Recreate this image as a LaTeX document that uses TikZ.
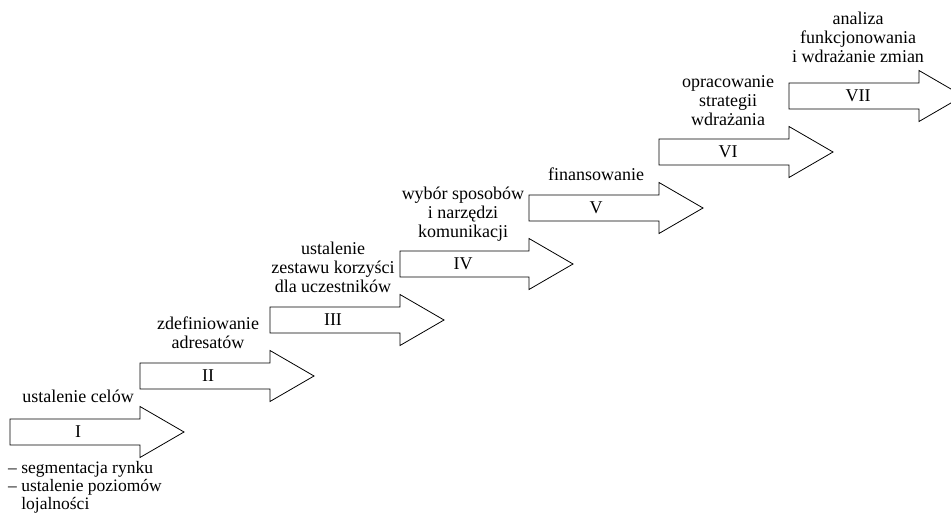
\documentclass[tikz,border=0pt]{standalone}
\usepackage{fontspec}
\setmainfont{Liberation Serif}
\usetikzlibrary{positioning}
\tikzset{
    %Define style for step arrows
    krok/.style={
           draw=black,
           line width=0.8pt,
           line join=miter},
    %Define style for labels above the arrows
    opis/.style={
           anchor=south,
           align=center,
           inner sep=0pt,
           font=\fontsize{18}{19}\selectfont},
    % Define style for the step numbers
    nr/.style={
           inner sep=0pt,
           font=\fontsize{18}{19}\selectfont}
}
\begin{document}
\begin{tikzpicture}[x=1pt, y=-1pt,
lista/.style={anchor=north west, align=left, inner sep=0pt, font=\fontsize{17.5}{18}\selectfont}
]
\useasboundingbox (0,0) rectangle (951,513);
%Arrows
\draw[krok] (10,419) -- ++(130,0) -- ++(0,-12.5) -- ++(44,25.5) -- ++(-44,25.5) -- ++(0,-12.5) -- ++(-130,0) -- cycle;
\draw[krok] (140,363) -- ++(130,0) -- ++(0,-12.5) -- ++(44,25.5) -- ++(-44,25.5) -- ++(0,-12.5) -- ++(-130,0) -- cycle;
\draw[krok] (270,307) -- ++(130,0) -- ++(0,-12.5) -- ++(44,25.5) -- ++(-44,25.5) -- ++(0,-12.5) -- ++(-130,0) -- cycle;
\draw[krok] (400,251) -- ++(129,0) -- ++(0,-12.5) -- ++(44,25.5) -- ++(-44,25.5) -- ++(0,-12.5) -- ++(-129,0) -- cycle;
\draw[krok] (529,195) -- ++(130,0) -- ++(0,-12.5) -- ++(44,25.5) -- ++(-44,25.5) -- ++(0,-12.5) -- ++(-130,0) -- cycle;
\draw[krok] (659,139) -- ++(130,0) -- ++(0,-12.5) -- ++(44,25.5) -- ++(-44,25.5) -- ++(0,-12.5) -- ++(-130,0) -- cycle;
\draw[krok] (789,83) -- ++(130,0) -- ++(0,-12.5) -- ++(44,25.5) -- ++(-44,25.5) -- ++(0,-12.5) -- ++(-130,0) -- cycle;
%Step numbers
\node[nr] (nr1) at (78,432) {I};
\node[nr] (nr2) at (208,376) {II};
\node[nr] (nr3) at (333,320) {III};
\node[nr] (nr4) at (463,264) {IV};
\node[nr] (nr5) at (596,208) {V};
\node[nr] (nr6) at (728,152) {VI};
\node[nr] (nr7) at (858,96) {VII};
%Labels
\node[opis] (opis1) at (78,408) {ustalenie celów\strut};
\node[opis] (opis2) at (208,354) {zdefiniowanie\\adresatów\strut};
\node[opis] (opis3) at (333,298) {ustalenie\\zestawu korzyści\\dla uczestników\strut};
\node[opis] (opis4) at (463,243) {wybór sposobów\\i narzędzi\\komunikacji\strut};
\node[opis] (opis5) at (596,186) {finansowanie\strut};
\node[opis] (opis6) at (728,131) {opracowanie\\strategii\\wdrażania\strut};
\node[opis] (opis7) at (858,68) {analiza\\funkcjonowania\\i wdrażanie zmian\strut};
\node[lista] (lista1) at (8,461) {– segmentacja rynku\\– ustalenie poziomów\\\phantom{– }lojalności};
\end{tikzpicture}
\end{document}
